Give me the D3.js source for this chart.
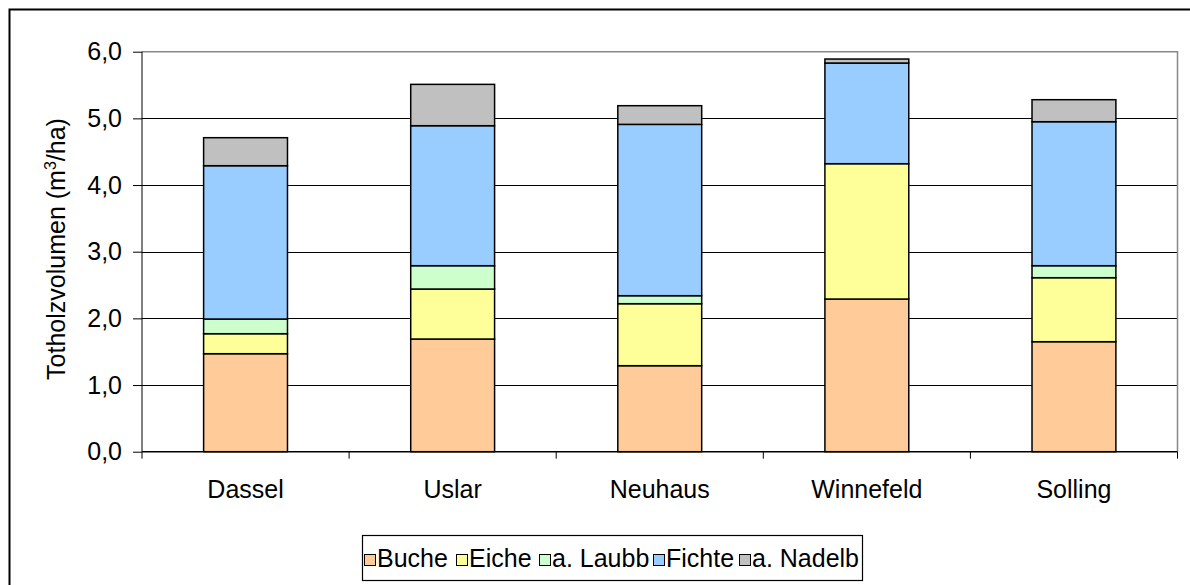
<!DOCTYPE html>
<html><head><meta charset="utf-8">
<script src="https://cdn.jsdelivr.net/npm/d3@7"></script>
<style>body{margin:0;background:#fff}svg{display:block}text{font-family:"Liberation Sans",Arial,sans-serif;fill:#000}</style>
</head><body><svg id="c" width="1190" height="585"></svg>
<script>
const categories = ["Dassel","Uslar","Neuhaus","Winnefeld","Solling"];
const seriesNames = ["Buche","Eiche","a. Laubb","Fichte","a. Nadelb"];
const buche  = [1.47, 1.69, 1.29, 2.29, 1.65];
const eiche  = [0.30, 0.75, 0.93, 2.03, 0.96];
const laubb  = [0.22, 0.35, 0.12, 0.00, 0.18];
const fichte = [2.30, 2.10, 2.57, 1.51, 2.16];
const nadelb = [0.42, 0.62, 0.28, 0.06, 0.33];
const colors = ["#FFCC99","#FFFF99","#CCFFCC","#99CCFF","#C0C0C0"];
const yTicks = [0,1,2,3,4,5,6];

const svg = d3.select("#c");
const L = 142, R = 1177.5, T = 51.7, B = 451.7;
const FS = "25px";
const x = d3.scaleBand().domain(categories).range([L, R]).paddingInner(0.595).paddingOuter(0.2975);
const y = d3.scaleLinear().domain([0, 6]).range([B, T]);

// outer frame
svg.append("rect").attr("x",9.5).attr("y",9.5).attr("width",1200).attr("height",600)
  .attr("fill","none").attr("stroke","#000").attr("stroke-width",2);

// gridlines
svg.append("g").selectAll("line").data(yTicks.slice(1,-1)).join("line")
  .attr("x1",L).attr("x2",R).attr("y1",d=>Math.round(y(d))+0.5).attr("y2",d=>Math.round(y(d))+0.5)
  .attr("stroke","#000").attr("stroke-width",1);

// plot border (top/right)
svg.append("path").attr("d",`M${L},${T}H${R}V${B}`).attr("fill","none").attr("stroke","#888").attr("stroke-width",1.5);

// stacked data
const rows = categories.map((c,i)=>({cat:c, "Buche":buche[i], "Eiche":eiche[i], "a. Laubb":laubb[i], "Fichte":fichte[i], "a. Nadelb":nadelb[i]}));
const stack = d3.stack().keys(seriesNames)(rows);
const bw = x.bandwidth();
svg.append("g").selectAll("g").data(stack).join("g")
  .attr("fill",(d,i)=>colors[i])
  .selectAll("rect").data(d=>d.filter(s=>s[1]-s[0]>0)).join("rect")
  .attr("x",d=>x(d.data.cat)).attr("width",bw)
  .attr("y",d=>y(d[1])).attr("height",d=>y(d[0])-y(d[1]))
  .attr("stroke","#000").attr("stroke-width",1.5);

// y axis
const ya = svg.append("g").attr("transform",`translate(${L},0)`)
  .call(d3.axisLeft(y).tickValues(yTicks).tickSize(9).tickPadding(11).tickFormat(d=>d3.format(".1f")(d).replace(".",",")));
ya.select(".domain").attr("stroke","#000").attr("d",`M0,${B}V${T}`);
ya.selectAll(".tick line").attr("stroke","#000");
ya.selectAll("text").style("font-size",FS).attr("fill","#000").attr("font-family","Liberation Sans, Arial, sans-serif");

// x axis
const xa = svg.append("g").attr("transform",`translate(0,${B})`);
xa.append("line").attr("x1",L).attr("x2",R).attr("stroke","#000").attr("stroke-width",1.5);
const step = x.step();
xa.selectAll("line.t").data(d3.range(6)).join("line").attr("class","t")
  .attr("x1",i=>L+i*step).attr("x2",i=>L+i*step).attr("y1",0).attr("y2",7).attr("stroke","#000");
xa.selectAll("text").data(categories).join("text")
  .attr("x",d=>x(d)+bw/2).attr("y",46).attr("text-anchor","middle").style("font-size",FS).text(d=>d);

// y label
const yl = svg.append("text").attr("transform","translate(65,249) rotate(-90)").attr("text-anchor","middle").style("font-size",FS);
yl.append("tspan").text("Totholzvolumen (m");
yl.append("tspan").text("3").attr("dy",-9).style("font-size","16px");
yl.append("tspan").text("/ha)").attr("dy",9);

// legend
const lg = svg.append("g");
lg.append("rect").attr("x",362.5).attr("y",535.5).attr("width",500).attr("height",45).attr("fill","#fff").attr("stroke","#000").attr("stroke-width",1.2);
const lx = [364, 456, 539, 653, 739];
seriesNames.forEach((s,i)=>{
  lg.append("rect").attr("x",lx[i]+0.5).attr("y",554.5).attr("width",11).attr("height",11).attr("fill",colors[i]).attr("stroke","#000").attr("stroke-width",1);
  lg.append("text").attr("x",lx[i]+13).attr("y",567).style("font-size",FS).text(s);
});
</script></body></html>
